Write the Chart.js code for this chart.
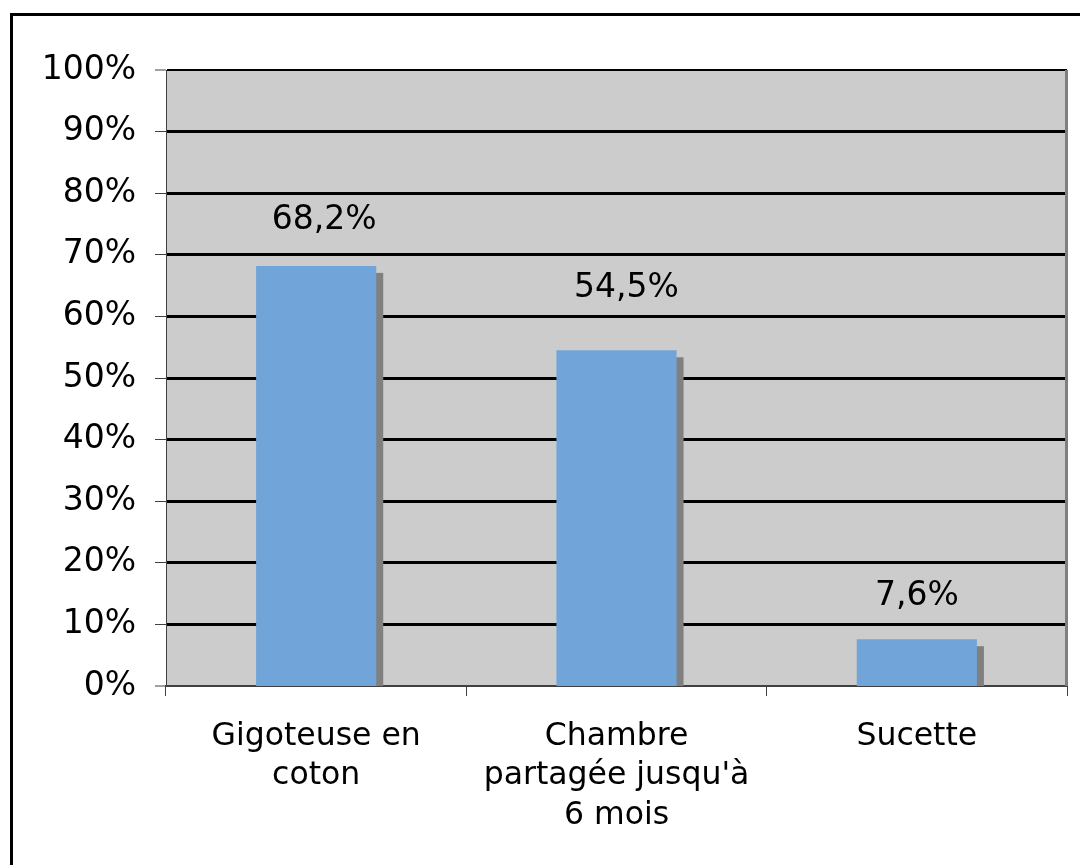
<!DOCTYPE html>
<html>
<head>
<meta charset="utf-8">
<script src="https://cdn.jsdelivr.net/npm/chart.js@4/dist/chart.umd.min.js"></script>
<style>
  html, body { margin: 0; padding: 0; background: #fff; }
  canvas { display: block; }
</style>
</head>
<body>
<canvas id="chart" width="1080" height="865"></canvas>
<script>
// Données
const categories = [
  ['Gigoteuse en', 'coton'],
  ['Chambre', "partagée jusqu'à", '6 mois'],
  ['Sucette']
];
const valeurs = [68.2, 54.5, 7.6];
const yTicks = [0, 10, 20, 30, 40, 50, 60, 70, 80, 90, 100];

const police = 'Verdana, "DejaVu Sans", sans-serif';

// cadre, fond gris, ombres des barres, étiquettes
const decor = {
  id: 'decor',
  beforeDraw(chart) {
    const ctx = chart.ctx;
    const a = chart.chartArea;
    ctx.save();
    ctx.fillStyle = '#fff';
    ctx.fillRect(0, 0, chart.width, chart.height);
    ctx.strokeStyle = '#000';
    ctx.lineWidth = 3;
    ctx.beginPath();
    ctx.moveTo(11.5, chart.height);
    ctx.lineTo(11.5, 14.5);
    ctx.lineTo(chart.width, 14.5);
    ctx.stroke();
    ctx.fillStyle = '#cccccc';
    ctx.fillRect(a.left, a.top, a.right - a.left, a.bottom - a.top);
    ctx.restore();
  },
  beforeDatasetsDraw(chart) {
    const ctx = chart.ctx;
    const a = chart.chartArea;
    ctx.save();
    ctx.strokeStyle = '#7f7f7f';
    ctx.lineWidth = 3;
    ctx.beginPath();
    ctx.moveTo(a.right - 0.5, a.top);
    ctx.lineTo(a.right - 0.5, a.bottom);
    ctx.stroke();
    ctx.fillStyle = '#808080';
    chart.getDatasetMeta(0).data.forEach(bar => {
      const w = bar.width;
      ctx.fillRect(bar.x - w / 2 + 7, bar.y + 7, w, bar.base - bar.y - 7);
    });
    ctx.restore();
  },
  afterDatasetsDraw(chart, args, opts) {
    const ctx = chart.ctx;
    ctx.save();
    ctx.font = '33px ' + police;
    ctx.fillStyle = '#000';
    ctx.textAlign = 'center';
    ctx.textBaseline = 'middle';
    chart.getDatasetMeta(0).data.forEach((bar, i) => {
      const v = chart.data.datasets[0].data[i];
      const txt = v.toFixed(1).replace('.', ',') + '%';
      ctx.fillText(txt, bar.x + opts.dx[i], bar.y - opts.dy[i]);
    });
    ctx.restore();
  }
};

new Chart(document.getElementById('chart'), {
  type: 'bar',
  data: {
    labels: categories,
    datasets: [{
      data: valeurs,
      backgroundColor: '#71a5d9',
      borderWidth: 0,
      barPercentage: 0.4,
      categoryPercentage: 1
    }]
  },
  options: {
    responsive: false,
    animation: false,
    layout: { padding: { top: 70, right: 13, left: 0, bottom: 0 } },
    plugins: {
      legend: { display: false },
      tooltip: { enabled: false },
      decor: { dx: [8, 10, 0], dy: [45, 62, 43] }
    },
    scales: {
      x: {
        grid: {
          offset: true,
          drawOnChartArea: false,
          tickLength: 10,
          tickColor: '#404040',
          tickWidth: 1
        },
        border: { display: true, color: '#404040', width: 2 },
        ticks: {
          color: '#000',
          padding: 21,
          maxRotation: 0,
          autoSkip: false,
          font: { family: police, size: 31.5, lineHeight: 1.25 }
        },
        afterFit(s) { s.height = 179; }
      },
      y: {
        min: 0,
        max: 100,
        afterBuildTicks(s) { s.ticks = yTicks.map(v => ({ value: v })); },
        grid: {
          color: '#000',
          lineWidth: c => c.tick.value === 0 ? 0 : (c.tick.value === 100 ? 2 : 3),
          tickLength: 11,
          tickColor: '#404040',
          tickWidth: 1
        },
        border: { display: true, color: '#404040', width: 1 },
        ticks: {
          color: '#000',
          padding: 19,
          font: { family: police, size: 33 },
          callback: v => v + '%'
        },
        afterFit(s) { s.width = 166; }
      }
    }
  },
  plugins: [decor]
});
</script>
</body>
</html>
